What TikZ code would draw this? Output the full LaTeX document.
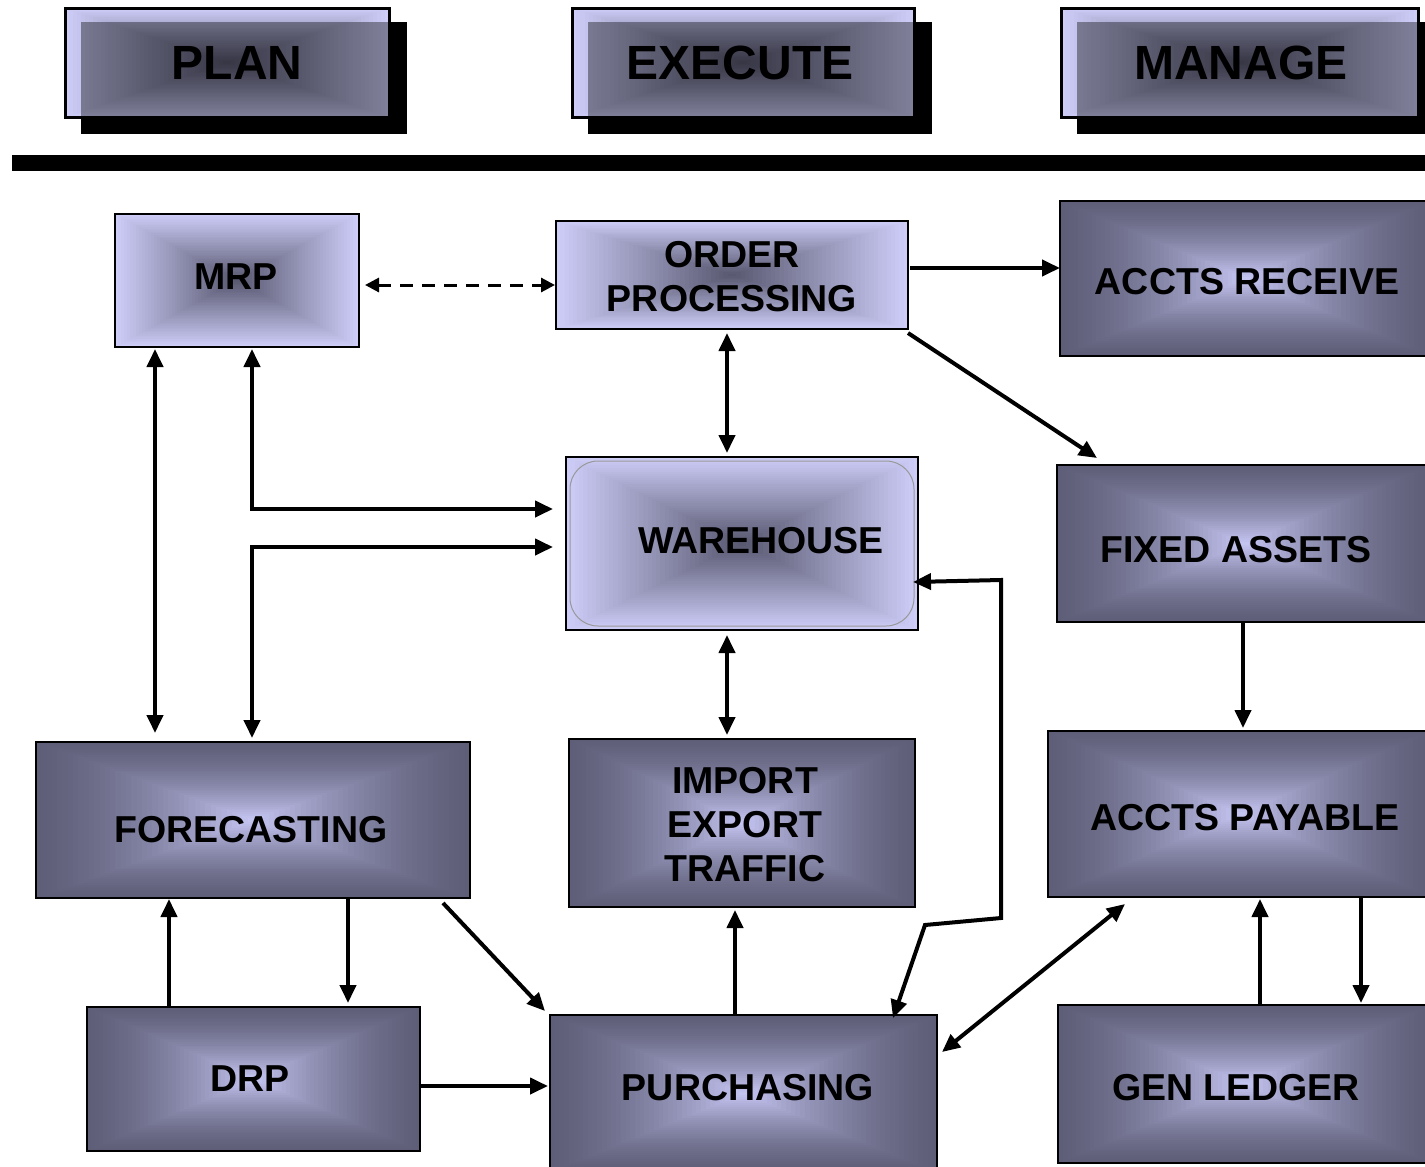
\documentclass[tikz,border=0pt]{standalone}
\usepackage{fontspec}
\setmainfont{Liberation Sans}
\usetikzlibrary{arrows.meta}
\definecolor{ltout}{RGB}{205,205,248}
\definecolor{ltin}{RGB}{86,86,110}
\definecolor{dkout}{RGB}{94,94,120}
\definecolor{dkin}{RGB}{200,200,246}
\colorlet{hdout}{ltout!62!black}
\colorlet{hdin}{ltin!62!black}
% box gradient: x1 y1 x2 y2 outer inner curvature(0..1)
\newcommand\gradrect[7]{%
  \foreach \gi in {0,...,40}{%
    \pgfmathsetmacro\gradT{\gi/41}%
    \pgfmathsetmacro\gradP{100*\gradT*(1-#7+#7*\gradT)}%
    \fill[#6!\gradP!#5] ({#1+\gradT*(#3-#1)/2},{#2+\gradT*(#4-#2)/2}) rectangle ({#3-\gradT*(#3-#1)/2},{#4-\gradT*(#4-#2)/2});
  }}
\newcommand\boxnode[5]{%
  \node[frame, minimum width={(#4-#2)*1pt}, minimum height={(#5-#3)*1pt}] (#1) at ({(#2+#4)/2},{(#3+#5)/2}) {};}
\newcommand\hdrbox[5]{% name x1 y1 x2 y2
  \fill[black] ({#2+16},{#3+14}) rectangle ({#4+18},{#5+17});
  \gradrect{#2}{#3}{#4}{#5}{ltout}{ltin}{0}
  \begin{scope}
    \clip ({#2+16},{#3+14}) rectangle ({#4+18},{#5+17});
    \gradrect{#2}{#3}{#4}{#5}{hdout}{hdin}{0}
  \end{scope}
  \node[frame, line width=3pt, minimum width={(#4-#2)*1pt}, minimum height={(#5-#3)*1pt}] (#1) at ({(#2+#4)/2},{(#3+#5)/2}) {};}
\begin{document}
\begin{tikzpicture}[x=1pt,y=-1pt,
  frame/.style={draw=black, line width=2.5pt, inner sep=0pt, outer sep=0pt, rectangle},
  lbl/.style={font=\bfseries\fontsize{37.5}{44}\selectfont, align=center, inner sep=0pt, text=black},
  hdr/.style={font=\bfseries\fontsize{48}{50}\selectfont, inner sep=0pt, text=black},
  arr/.style={line width=4pt, -{Triangle[length=18pt,width=16pt]}},
  darr/.style={line width=4pt, {Triangle[length=18pt,width=16pt]}-{Triangle[length=18pt,width=16pt]}},
  dasharr/.style={line width=3pt, dash pattern=on 13pt off 9pt, {Triangle[length=14pt,width=14pt]}-{Triangle[length=14pt,width=14pt]}}]
\useasboundingbox (0,0) rectangle (1425,1167);
\fill[white] (0,0) rectangle (1425,1167);

% header
\hdrbox{plan}{65}{8}{389}{117}
\hdrbox{exec}{572}{8}{914}{117}
\hdrbox{mgmt}{1061}{8}{1418}{117}
\node[hdr] (tplan) at (237,63) {PLAN};
\node[hdr] (texec) at (740,63) {EXECUTE};
\node[hdr] (tmgmt) at (1241,63) {MANAGE};
\fill[black] (12,155) rectangle (1432,171);

% light boxes
\gradrect{115}{214}{359}{347}{ltout}{ltin}{0}
\boxnode{mrp}{115}{214}{359}{347}
\gradrect{556}{221}{908}{329}{ltout}{ltin}{0}
\boxnode{op}{556}{221}{908}{329}
\gradrect{566}{457}{918}{630}{ltout}{ltin}{0}
\draw[line width=1pt, color=black!40] (570,461) [rounded corners=28pt] rectangle (914,626);
\boxnode{wh}{566}{457}{918}{630}

% dark boxes
\gradrect{1060}{201}{1432}{356}{dkout}{dkin}{0.6}
\boxnode{ar}{1060}{201}{1432}{356}
\gradrect{1057}{465}{1432}{622}{dkout}{dkin}{0.6}
\boxnode{fa}{1057}{465}{1432}{622}
\gradrect{36}{742}{470}{898}{dkout}{dkin}{0.6}
\boxnode{fc}{36}{742}{470}{898}
\gradrect{569}{739}{915}{907}{dkout}{dkin}{0.6}
\boxnode{ie}{569}{739}{915}{907}
\gradrect{1048}{731}{1432}{897}{dkout}{dkin}{0.6}
\boxnode{ap}{1048}{731}{1432}{897}
\gradrect{87}{1007}{420}{1151}{dkout}{dkin}{0.6}
\boxnode{drp}{87}{1007}{420}{1151}
\gradrect{550}{1015}{937}{1172}{dkout}{dkin}{0.6}
\boxnode{pu}{550}{1015}{937}{1172}
\gradrect{1058}{1005}{1432}{1163}{dkout}{dkin}{0.6}
\boxnode{gl}{1058}{1005}{1432}{1163}

% labels
\node[lbl] (tmrp) at (236,277) {MRP};
\node[lbl] (top) at (732,276.5) {ORDER\\PROCESSING};
\node[lbl] (tar) at (1247,282) {ACCTS RECEIVE};
\node[lbl] (twh) at (761,541) {WAREHOUSE};
\node[lbl] (tfa) at (1236,550) {FIXED ASSETS};
\node[lbl] (tfc) at (251,830) {FORECASTING};
\node[lbl] (tie) at (745,825) {IMPORT\\EXPORT\\TRAFFIC};
\node[lbl] (tap) at (1245,818) {ACCTS PAYABLE};
\node[lbl] (tdrp) at (250,1079) {DRP};
\node[lbl] (tpu) at (748,1088) {PURCHASING};
\node[lbl] (tgl) at (1236,1088) {GEN LEDGER};

% connectors
\draw[dasharr] ([shift={(6pt,-4.5pt)}]mrp.east) -- ([shift={(-1pt,-10pt)}]op.west);
\draw[arr] ([shift={(2pt,7pt)}]op.east) -- ([yshift=10.5pt]ar.west);
\draw[arr] ([yshift=-4pt]op.south east) -- ([shift={(40pt,7pt)}]fa.north west);
\draw[darr] ([shift={(-5pt,-4pt)}]op.south) -- ([shift={(-15pt,4pt)}]wh.north);
\draw[darr] ([shift={(-82pt,-2pt)}]mrp.south) -- ([shift={(-98pt,9pt)}]fc.north);
\draw[darr] ([shift={(15pt,-2pt)}]mrp.south) |- ([shift={(-13pt,34.5pt)}]wh.west);
\draw[darr] ([shift={(-1pt,4pt)}]fc.north) |- ([shift={(-13pt,-3.5pt)}]wh.west);
\draw[darr] ([shift={(-15pt,-5pt)}]wh.south) -- ([shift={(-15pt,4pt)}]ie.north);
\coordinate (b1) at (1001,580);
\coordinate (b2) at (1001,918);
\coordinate (b3) at (925,925);
\draw[darr, line join=miter] ([shift={(-5pt,-38.5pt)}]wh.east) -- (b1) -- (b2) -- (b3) -- ([shift={(149.5pt,-3pt)}]pu.north);
\draw[arr] ([xshift=-1.5pt]fa.south) -- ([shift={(3pt,3pt)}]ap.north);
\draw[arr] ([xshift=95pt]fc.south) -- ([shift={(94.5pt,4pt)}]drp.north);
\draw[arr] ([xshift=-84.5pt]drp.north) -- ([shift={(-84pt,-1pt)}]fc.south);
\draw[arr] ([shift={(-27pt,-5pt)}]fc.south east) -- ([shift={(-5pt,4pt)}]pu.north west);
\draw[arr] ([yshift=-7pt]drp.east) -- ([shift={(-2pt,7.5pt)}]pu.west);
\draw[arr] ([xshift=-8.5pt]pu.north) -- ([shift={(-7pt,-3pt)}]ie.south);
\draw[darr] ([shift={(5pt,41.5pt)}]pu.east) -- ([shift={(77pt,-7pt)}]ap.south west);
\draw[arr] ([xshift=15pt]gl.north) -- ([shift={(20pt,-2pt)}]ap.south);
\draw[arr] ([xshift=121pt]ap.south) -- ([shift={(116pt,2pt)}]gl.north);
\end{tikzpicture}
\end{document}
